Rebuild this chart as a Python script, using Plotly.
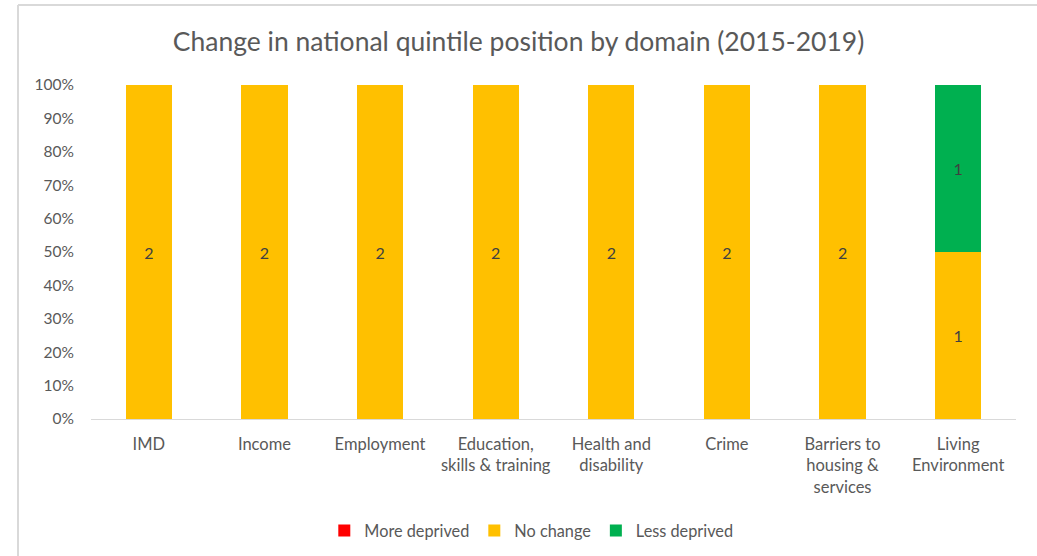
import plotly.graph_objects as go

categories = ["IMD", "Income", "Employment", "Education,<br>skills & training",
              "Health and<br>disability", "Crime", "Barriers to<br>housing &<br>services",
              "Living<br>Environment"]
more_deprived = [0, 0, 0, 0, 0, 0, 0, 0]
no_change = [2, 2, 2, 2, 2, 2, 2, 1]
less_deprived = [0, 0, 0, 0, 0, 0, 0, 1]

series = [
    ("More deprived", more_deprived, "#FF0000"),
    ("No change", no_change, "#FFC000"),
    ("Less deprived", less_deprived, "#00B050"),
]

FONT = "Lato, Carlito, Calibri, sans-serif"
GREY = "#595959"

fig = go.Figure()
for name, vals, col in series:
    fig.add_trace(go.Bar(
        x=categories, y=vals, name=name, marker=dict(color=col, line=dict(width=0)),
        text=[str(v) if v else "" for v in vals], textposition="inside",
        insidetextanchor="middle", textangle=0,
        textfont=dict(color="#404040", size=16, family=FONT),
        hoverinfo="skip",
    ))

fig.update_layout(
    barmode="stack", barnorm="percent", bargap=0.6,
    width=1037, height=556,
    margin=dict(l=91, r=21, t=85, b=137, autoexpand=False),
    paper_bgcolor="white", plot_bgcolor="white",
    font=dict(family=FONT, color=GREY, size=16),
    title=dict(text="Change in national quintile position by domain (2015-2019)",
               x=0.5, xanchor="center", y=1 - 42 / 556, yanchor="middle",
               font=dict(size=26.5, color=GREY, family=FONT)),
    legend=dict(orientation="h", x=0.476, xanchor="center",
                yref="container", y=1 - 531 / 556, yanchor="middle",
                font=dict(size=16.3, color=GREY), traceorder="normal", itemwidth=30),
    showlegend=True,
    uniformtext=dict(minsize=8, mode="show"),
)
fig.update_xaxes(showline=True, linecolor="#D9D9D9", linewidth=1, ticks="",
                 tickfont=dict(size=16.5, color=GREY), ticklabelstandoff=10,
                 showgrid=False, automargin=False)
fig.update_yaxes(range=[0, 100], tickvals=list(range(0, 101, 10)),
                 ticktext=[f"{v}%" for v in range(0, 101, 10)],
                 showgrid=False, zeroline=False, showline=False, ticks="",
                 tickfont=dict(size=15.5, color=GREY), ticklabelstandoff=16,
                 automargin=False)

# outer chart-area frame (top and left edges visible in reference)
fig.add_shape(type="line", xref="paper", yref="paper",
              x0=-73 / 925, x1=1.03, y0=1 + 80 / 334, y1=1 + 80 / 334,
              line=dict(color="#D9D9D9", width=2))
fig.add_shape(type="line", xref="paper", yref="paper",
              x0=-73 / 925, x1=-73 / 925, y0=1 + 80 / 334, y1=-0.42,
              line=dict(color="#D9D9D9", width=2))

fig.write_html("out.html", config={"displayModeBar": False},
               post_script="document.body.style.margin='0';")
